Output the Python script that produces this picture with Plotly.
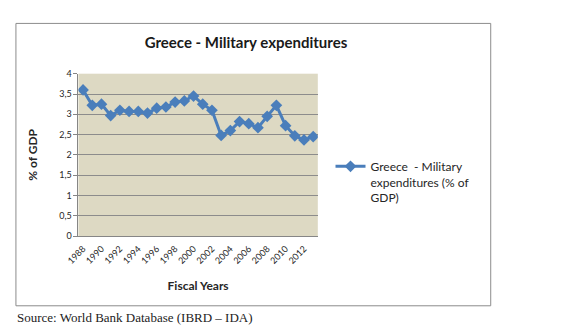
import plotly.graph_objects as go

years = [str(y) for y in range(1988, 2014)]
values = [3.60, 3.22, 3.25, 2.97, 3.10, 3.07, 3.07, 3.03, 3.15, 3.18, 3.30, 3.33, 3.45,
          3.25, 3.10, 2.48, 2.60, 2.82, 2.77, 2.67, 2.95, 3.22, 2.72, 2.47, 2.37, 2.45]
tick_years = [str(y) for y in range(1988, 2013, 2)]
y_ticks = [0, 0.5, 1, 1.5, 2, 2.5, 3, 3.5, 4]
y_tick_text = ["0", "0,5", "1", "1,5", "2", "2,5", "3", "3,5", "4"]

W, H = 564, 334
px = lambda x: x / W
py = lambda y: 1 - y / H

FONT = "Lato, Open Sans, sans-serif"
BLUE = "#4A7EBB"

fig = go.Figure()
fig.add_trace(go.Scatter(
    x=years, y=values, mode="lines+markers",
    name="Greece  - Military<br>expenditures (% of<br>GDP)",
    line=dict(color=BLUE, width=3),
    marker=dict(symbol="diamond", size=9, color=BLUE),
))

fig.update_layout(
    width=W, height=H,
    margin=dict(l=0, r=0, t=0, b=0),
    paper_bgcolor="white",
    plot_bgcolor="#DDD9C3",
    font=dict(family=FONT, size=10, color="#262626"),
    showlegend=True,
    legend=dict(x=px(325), y=py(151), xanchor="left", yanchor="top", valign="top",
                font=dict(family=FONT, size=12, color="#262626"),
                bgcolor="rgba(0,0,0,0)", itemwidth=30, tracegroupgap=0),
    xaxis=dict(domain=[px(67), px(312)], type="category", range=[-0.5, 25.5],
               tickmode="array", tickvals=tick_years, ticktext=tick_years,
               tickangle=-45, tickfont=dict(size=9, color="#262626"),
               ticklabelstandoff=3,
               showgrid=False, showline=True, linecolor="#868686", linewidth=1,
               ticks="", zeroline=False,
               title=dict(text="<b>Fiscal Years</b>", font=dict(size=12, color="#262626"), standoff=16),
               anchor="y"),
    yaxis=dict(domain=[py(238), py(70)], range=[0, 4],
               tickmode="array", tickvals=y_ticks, ticktext=y_tick_text,
               tickfont=dict(size=9, color="#262626"),
               showgrid=True, gridcolor="#8C8C8C", gridwidth=1,
               showline=True, linecolor="#868686", linewidth=1,
               ticks="outside", ticklen=4, tickcolor="#868686", zeroline=False,
               title=dict(text="<b>% of GDP</b>", font=dict(size=12, color="#262626"), standoff=18),
               anchor="x"),
    title=dict(text="<b>Greece - Military expenditures</b>", x=px(246), xanchor="center",
               y=py(43), yanchor="middle", font=dict(family=FONT, size=15, color="#1a1a1a")),
    shapes=[dict(type="rect", xref="paper", yref="paper",
                 x0=px(3), x1=px(489), y0=py(310), y1=py(18),
                 line=dict(color="#8C8C8C", width=1), layer="below")],
    annotations=[dict(text="Source: World Bank Database (IBRD – IDA)", xref="paper", yref="paper",
                      x=px(2), y=py(322), xanchor="left", yanchor="middle", showarrow=False,
                      font=dict(family="Liberation Serif, Times New Roman, serif", size=13, color="#222222"))],
)

fig.write_html("out.html")
